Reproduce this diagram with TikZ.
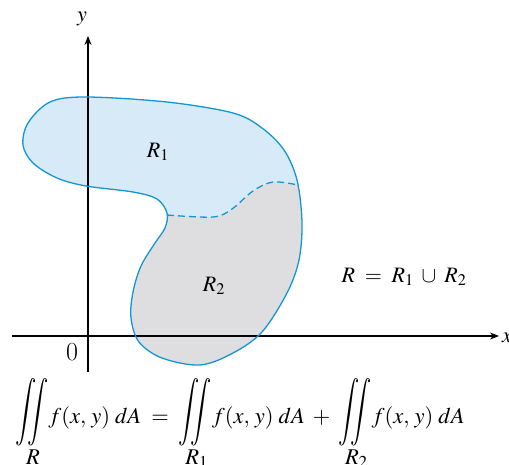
\documentclass[tikz,border=0pt]{standalone}
\usepackage{amsmath}
\usepackage{graphicx}
\usepackage{mathptmx}
\usetikzlibrary{arrows.meta}
\definecolor{outl}{RGB}{20,150,210}
\definecolor{bluef}{RGB}{214,234,248}
\definecolor{greyf}{RGB}{222,222,224}
\newcommand\myIint[1]{\mathop{\raisebox{5pt}{$\vcenter{\hbox{\scalebox{1.05}[1.5]{$\displaystyle\iint$}}}$}}\limits_{\raisebox{-2pt}[0pt][0pt]{$\textstyle\mkern2mu #1$}}}
\tikzset{
  axis/.style={line width=1.2pt,-{Stealth[length=9pt,width=7pt]}},
  lbl/.style={inner sep=0pt,font=\fontsize{22}{26}\selectfont},
  formula/.style={inner sep=0pt,font=\fontsize{22.5}{27}\selectfont}
}
\def\outline{(23,145) (28,123) (50,102) (86,97) (167,102) (233,113) (262,128) (284,150) (297,180) (302,222) (299,260) (287,293) (262,332) (233,353) (200,365) (162,358) (139,342) (131,318) (133,292) (141,266) (155,243) (165,228) (167,213) (157,199) (133,192) (86,186) (57,178) (33,163)}
\def\dashc{(167,215) (213,217) (232,209) (253,191) (273,182) (298,185)}
\begin{document}
\begin{tikzpicture}[x=1pt,y=-1pt]
\useasboundingbox (0,0) rectangle (509,464);
% fills
\fill[greyf] plot[smooth cycle,tension=0.55] coordinates {\outline};
\begin{scope}
  \clip plot[smooth,tension=0.55] coordinates {\dashc} -- (330,185) -- (330,0) -- (0,0) -- (0,215) -- cycle;
  \fill[bluef] plot[smooth cycle,tension=0.55] coordinates {\outline};
\end{scope}
% axes
\coordinate (xs) at (12,336);
\coordinate (xe) at (499,336);
\coordinate (ys) at (88,372);
\coordinate (ye) at (88,36);
\draw[axis] (xs) -- (xe);
\draw[axis] (ys) -- (ye);
\node[lbl,anchor=west] (xl) at (502,338) {$x$};
\node[lbl] (yl) at (82,19) {$y$};
\node[lbl,font=\fontsize{26}{30}\selectfont] (o) at (72,352) {0};
% outline
\draw[outl,line width=1.3pt] plot[smooth cycle,tension=0.55] coordinates {\outline};
\draw[outl,line width=1.3pt,dash pattern=on 7pt off 4pt] plot[smooth,tension=0.55] coordinates {\dashc};
% labels
\node[lbl] (r1) at (158,152) {$R_1$};
\node[lbl] (r2) at (214,286) {$R_2$};
\node[lbl] (ru) at (404,277) {$R \;=\; R_1 \;\cup\; R_2$};
\node[formula,anchor=base west] (f) at (15,423) {$\myIint{R}\! f(x,\,y)\;dA \;=\; \myIint{R_1}\! f(x,\,y)\;dA \;+\; \myIint{R_2}\! f(x,\,y)\;dA$};
\end{tikzpicture}
\end{document}
